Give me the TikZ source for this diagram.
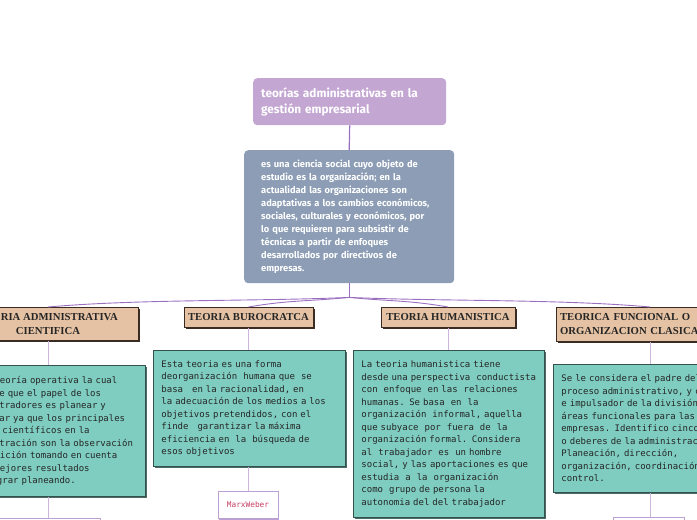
\documentclass[tikz,border=0pt]{standalone}
\usepackage{fontspec}
\setmainfont{Fira Sans}
\newfontfamily\monof{DejaVu Sans Mono}
\newfontfamily\serifb{Liberation Serif}
\usetikzlibrary{shadows,calc}
\definecolor{titlefill}{HTML}{C3A6D2}
\definecolor{descfill}{HTML}{8C9DB5}
\definecolor{hdrfill}{HTML}{E5C2A3}
\definecolor{hdrline}{HTML}{3A2C22}
\definecolor{tealfill}{HTML}{7ECDC0}
\definecolor{tealline}{HTML}{34524D}
\definecolor{tealshadow}{HTML}{4C6B66}
\definecolor{connmain}{HTML}{9B6FC0}
\definecolor{connsoft}{HTML}{CDB5DF}
\definecolor{leafline}{HTML}{BC9FD3}
\definecolor{leaftext}{HTML}{C63D63}
\newcommand\ml[1]{\mbox{#1}}
\begin{document}
\begin{tikzpicture}[x=1pt,y=-1pt,
  titlebox/.style={anchor=north west,fill=titlefill,rounded corners=4pt,inner xsep=8pt,inner ysep=0pt,
    text width=177pt,minimum height=47pt,align=left,text=white,
    font=\fontsize{11.8}{16}\selectfont\bfseries},
  descbox/.style={anchor=north west,fill=descfill,rounded corners=4pt,inner xsep=17pt,inner ysep=0pt,
    text width=176pt,minimum height=133pt,align=left,text=white,
    font=\fontsize{9.3}{13}\selectfont\bfseries},
  hdrbox/.style={anchor=north,fill=hdrfill,draw=hdrline,line width=0.8pt,inner xsep=4pt,inner ysep=0pt,
    font=\serifb\fontsize{10.7}{14}\selectfont\bfseries,text=black!85,
    drop shadow={shadow xshift=1.8pt,shadow yshift=-1.8pt,fill=hdrline,opacity=1}},
  tealbox/.style={anchor=north west,fill=tealfill,draw=tealline,line width=0.9pt,inner xsep=8pt,inner ysep=0pt,
    text width=176pt,align=left,text=black!85,
    font=\monof\fontsize{9}{12.5}\selectfont,
    drop shadow={shadow xshift=2pt,shadow yshift=-2pt,fill=tealshadow,opacity=1}},
  leafbox/.style={anchor=north,fill=white,draw=leafline,line width=0.8pt,inner sep=0pt,
    font=\monof\fontsize{7.8}{9}\selectfont,text=leaftext,
    drop shadow={shadow xshift=1.2pt,shadow yshift=-1.2pt,fill=leafline,opacity=1}},
  conn/.style={draw=connmain,line width=0.9pt},
  softconn/.style={draw=connsoft,line width=1pt}]
\useasboundingbox (0,0) rectangle (697,520);
\clip (0,0) rectangle (697,520);

% title and description
\node[titlebox] (title) at (253,78) {\ml{teorías administrativas en la}\\\ml{gestión empresarial}};
\node[descbox] (desc) at (244,150) {\ml{es una ciencia social cuyo objeto de}\\\ml{estudio es la organización; en la}\\\ml{actualidad las organizaciones son}\\\ml{adaptativas a los cambios económicos,}\\\ml{sociales, culturales y económicos, por}\\\ml{lo que requieren para subsistir de}\\\ml{técnicas a partir de enfoques}\\\ml{desarrollados por directivos de}\\\ml{empresas.}};
\draw[conn,line width=1.2pt] (title.south) -- (desc.north);

% headers
\node[hdrbox,minimum width=180pt,minimum height=33pt,align=center] (hA) at (48,307) {TEORIA ADMINISTRATIVA\\CIENTIFICA};
\node[hdrbox,minimum width=129pt,minimum height=20pt] (hB) at (248.5,307) {TEORIA BUROCRATCA};
\node[hdrbox,minimum width=134pt,minimum height=20pt] (hC) at (448,307) {TEORIA HUMANISTICA};
\node[hdrbox,text width=180pt,minimum height=34pt,align=left] (hD) at (650,307) {\ml{TEORICA FUNCIONAL O}\\\ml{ORGANIZACION CLASICA}};

% split connectors
\coordinate (split) at ($(desc.south)+(0,14)$);
\draw[conn] (desc.south) -- (split);
\draw[conn] (split) .. controls ($(split)+(-90,4)$) and ($(hA.north)+(90,-8)$) .. (hA.north);
\draw[conn] (split) .. controls ($(split)+(-40,4)$) and ($(hB.north)+(40,-7)$) .. (hB.north);
\draw[conn] (split) .. controls ($(split)+(40,4)$) and ($(hC.north)+(-40,-7)$) .. (hC.north);
\draw[conn] (split) .. controls ($(split)+(90,4)$) and ($(hD.north)+(-90,-8)$) .. (hD.north);

% teal boxes
\node[tealbox,minimum height=131pt] (tA) at (-47,365) {\ml{Es una teoría operativa la cual}\\\ml{sostiene que el papel de los}\\\ml{administradores es planear y}\\\ml{controlar ya que los principales}\\\ml{métodos científicos en la}\\\ml{administración son la observación}\\\ml{y la medición tomando en cuenta}\\\ml{de los mejores resultados}\\\ml{para lograr planeando.}};
\node[tealbox,minimum height=116pt] (tB) at (153,350) {\ml{Esta teoria es una forma}\\\ml{deorganización\ \ humana que\ \ se}\\\ml{basa\ \ \ en la racionalidad, en}\\\ml{la adecuación de los medios a los}\\\ml{objetivos pretendidos, con el}\\\ml{finde\ \ \ garantizar la máxima}\\\ml{eficiencia en\ \ la\ \ búsqueda de}\\\ml{esos objetivos}};
\node[tealbox,text width=175pt,minimum height=167pt] (tC) at (353,350) {\ml{La teoria humanistica tiene}\\\ml{desde una perspectiva\ \ conductista}\\\ml{con\ \ enfoque\ \ en las\ \ relaciones}\\\ml{humanas. Se basa\ \ en\ \ la}\\\ml{organización\ \ informal, aquella}\\\ml{que subyace\ \ por\ \ fuera\ \ de\ \ la}\\\ml{organización formal. Considera}\\\ml{al\ \ trabajador\ \ es\ \ un hombre}\\\ml{social, y las aportaciones es que}\\\ml{estudia\ \ a\ \ la\ \ organización}\\\ml{como\ \ grupo de persona la}\\\ml{autonomia del del trabajador}};
\node[tealbox,minimum height=128pt] (tD) at (553,364) {\ml{Se le considera el padre del}\\\ml{proceso administrativo, y creador}\\\ml{e impulsador de la división de}\\\ml{áreas funcionales para las}\\\ml{empresas. Identifico cinco}\\\ml{o deberes de la administración:}\\\ml{Planeación, dirección,}\\\ml{organización, coordinación y}\\\ml{control.}};

\draw[softconn] (hA.south) -- (hA.south |- tA.north);
\draw[softconn] (hB.south) -- (hB.south |- tB.north);
\draw[softconn] (hC.south) -- (hC.south |- tC.north);
\draw[softconn] (hD.south) -- (hD.south |- tD.north);

% leaves
\node[leafbox,minimum width=104pt,minimum height=30pt] (lA) at (48,518) {};
\node[leafbox,minimum width=60pt,minimum height=27pt] (lB) at (248,491) {MarxWeber};
\node[leafbox,minimum width=71pt,minimum height=30pt] (lD) at (648.5,517) {};
\draw[softconn] (tA.south -| hA.south) -- (hA.south |- lA.north);
\draw[softconn] (tB.south -| lB.north) -- (lB.north);
\draw[softconn] (tD.south -| hD.south) -- (hD.south |- lD.north);
\end{tikzpicture}
\end{document}
